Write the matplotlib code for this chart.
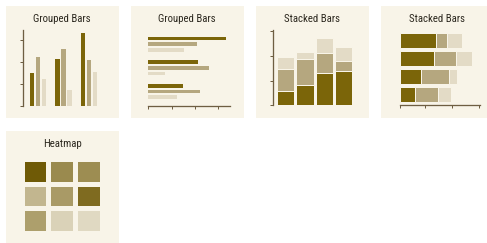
import matplotlib
matplotlib.use("Agg")
import matplotlib.pyplot as plt
from matplotlib.patches import Rectangle
from matplotlib.colors import LinearSegmentedColormap
from matplotlib import font_manager
import numpy as np

# ---------------- data ----------------
titles = ["Grouped Bars", "Grouped Bars", "Stacked Bars", "Stacked Bars", "Heatmap"]

grouped_dark = [33, 47, 73]
grouped_mid = [49, 57, 46]
grouped_light = [27, 16, 34]
grouped_ticks = [0, 22, 44, 66]

stacked_dark = [14, 20, 32, 34]
stacked_mid = [22, 26, 20, 10]
stacked_light = [12, 7, 15, 14]
stacked_ticks = [0, 24, 49, 74]

heat_values = [[0.97, 0.62, 0.60],
               [0.30, 0.50, 0.84],
               [0.47, 0.10, 0.05]]

# ---------------- style ----------------
W, H = 487, 243
DPI = 100
FIG_BG = "#ffffff"
CARD_BG = "#f8f4e8"
DARK = "#7b6509"
MID = "#b5a77f"
LIGHT = "#e3dbc6"
AXIS = "#6e5e42"
TEXT = "#2c281f"

def pick_font():
    for name in ["Liberation Sans Narrow", "DejaVu Sans Condensed", "Roboto Condensed", "Open Sans", "DejaVu Sans"]:
        try:
            font_manager.findfont(name, fallback_to_default=False)
            return name
        except Exception:
            continue
    return "DejaVu Sans"

FONT = pick_font()

fig = plt.figure(figsize=(W / DPI, H / DPI), dpi=DPI, facecolor=FIG_BG)

def px_axes(x0, y0, x1, y1, **kw):
    ax = fig.add_axes([x0 / W, 1 - y1 / H, (x1 - x0) / W, (y1 - y0) / H], **kw)
    ax.set_zorder(2)
    return ax

PT = 72.0 / DPI  # points per pixel

def card(ix, iy, title):
    ox, oy = 6 + 125 * ix, 6 + 125 * iy
    fig.patches.append(Rectangle((ox / W, 1 - (oy + 112.5) / H), 112.5 / W, 112.5 / H,
                                 transform=fig.transFigure, facecolor=CARD_BG,
                                 edgecolor="none", zorder=-5))
    fig.text((ox + 56) / W, 1 - (oy + 13.3) / H, title, ha="center", va="center",
             fontsize=10.8 * PT, color=TEXT, family=FONT, weight="normal")
    return 125 * ix, 125 * iy

def style_axes(ax, side):
    ax.set_facecolor("none")
    for s in ["top", "right", "left", "bottom"]:
        ax.spines[s].set_visible(s == side)
    ax.spines[side].set_color(AXIS)
    ax.spines[side].set_linewidth(1.3 * PT)
    ax.tick_params(axis="both", length=3.2 * PT, width=1.0 * PT, color=AXIS,
                   labelleft=False, labelbottom=False, direction="out")
    if side == "left":
        ax.set_xticks([])
    else:
        ax.set_yticks([])

# ---- card 1: vertical grouped bars ----
dx, dy = card(0, 0, titles[0])
ax = px_axes(dx + 22.7, dy + 30, dx + 104.3, dy + 106)
x = np.arange(len(grouped_dark))
step, bw = 0.235, 0.18
for off, vals, c in [(-step, grouped_dark, DARK), (0, grouped_mid, MID), (step, grouped_light, LIGHT)]:
    ax.bar(x + off, vals, width=bw, color=c, linewidth=0)
ax.set_xlim(-0.6, 2.6)
ax.set_ylim(0, 76)
style_axes(ax, "left")
ax.set_yticks(grouped_ticks)

# ---- card 2: horizontal grouped bars ----
dx, dy = card(1, 0, titles[1])
ax = px_axes(dx + 23.3, dy + 30, dx + 105.3, dy + 105.7)
y = np.arange(len(grouped_dark))
step, bh = 0.237, 0.156
for off, vals, c in [(step, grouped_dark, DARK), (0, grouped_mid, MID), (-step, grouped_light, LIGHT)]:
    ax.barh(y + off, vals, height=bh, color=c, linewidth=0)
ax.set_ylim(-0.6, 2.6)
ax.set_xlim(0, 77.4)
style_axes(ax, "bottom")
ax.set_xticks(grouped_ticks)

# ---- card 3: vertical stacked bars ----
dx, dy = card(2, 0, titles[2])
ax = px_axes(dx + 23.3, dy + 30, dx + 105.0, dy + 105)
x = np.arange(len(stacked_dark))
bottom = np.zeros(len(x))
for vals, c in [(stacked_dark, DARK), (stacked_mid, MID), (stacked_light, LIGHT)]:
    ax.bar(x, vals, bottom=bottom, width=0.89, color=c, edgecolor=CARD_BG, linewidth=1.0 * PT)
    bottom += np.array(vals)
ax.set_xlim(-0.64, 3.58)
ax.set_ylim(0, 75)
style_axes(ax, "left")
ax.set_yticks(stacked_ticks)

# ---- card 4: horizontal stacked bars ----
dx, dy = card(3, 0, titles[3])
ax = px_axes(dx + 24.7, dy + 30, dx + 105.3, dy + 105.3)
y = np.arange(len(stacked_dark))
left = np.zeros(len(y))
for vals, c in [(stacked_dark, DARK), (stacked_mid, MID), (stacked_light, LIGHT)]:
    ax.barh(y, vals, left=left, height=0.86, color=c, edgecolor=CARD_BG, linewidth=1.0 * PT)
    left += np.array(vals)
ax.set_ylim(-0.6, 3.6)
ax.set_xlim(0, 75)
style_axes(ax, "bottom")
ax.set_xticks(stacked_ticks)

# ---- card 5: heatmap ----
dx, dy = card(0, 1, titles[4])
ax = px_axes(dx + 21.65, dy + 34.35, dx + 101.65, dy + 107.65)
cmap = LinearSegmentedColormap.from_list("olive", ["#e6dfcc", "#6c5600"])
ax.pcolormesh(np.array(heat_values), cmap=cmap, vmin=0, vmax=1,
              edgecolors=CARD_BG, linewidth=3.3 * PT)
ax.set_xlim(0, 3)
ax.set_ylim(3, 0)
ax.axis("off")

fig.savefig("out.png", dpi=DPI, facecolor=FIG_BG)
